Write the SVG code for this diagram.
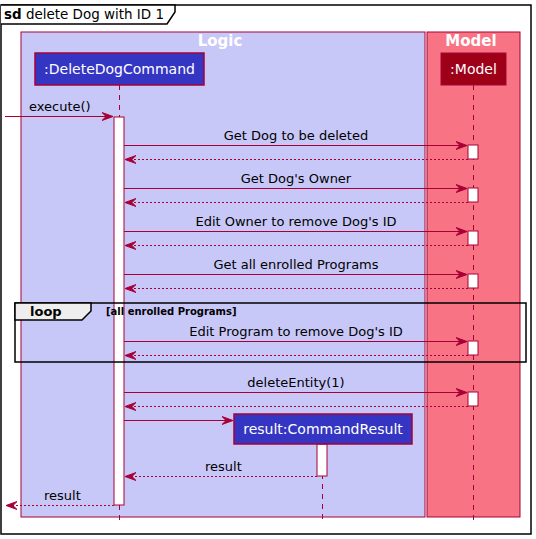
<svg xmlns="http://www.w3.org/2000/svg" width="536" height="539" viewBox="0 0 536 539">
<style>
text{font-family:"DejaVu Sans","Liberation Sans",sans-serif}
.msg{font-size:13px;fill:#000}
.line{stroke:#A80036;stroke-width:1;fill:none}
.ret{stroke:#A80036;stroke-width:1;fill:none;stroke-dasharray:2,2}
.life{stroke:#A80036;stroke-width:1;fill:none;stroke-dasharray:5,5}
.act{fill:#FFFFFF;stroke:#A80036;stroke-width:1}
.ptxt{font-size:14px;fill:#FFFFFF;text-anchor:middle}
.btitle{font-size:15px;font-weight:bold;fill:#FFFFFF;text-anchor:middle}
</style>
<defs>
<marker id="arr" viewBox="0 0 12 10" refX="11" refY="5" markerWidth="12" markerHeight="10" markerUnits="userSpaceOnUse" orient="auto">
<polygon points="0,1 11,5 0,9 4,5" fill="#A80036" stroke="#A80036" stroke-width="1"/>
</marker>
</defs>
<rect x="0" y="0" width="536" height="539" fill="#FFFFFF"/>
<g id="frame">
<rect x="1" y="5" width="530" height="529" fill="none" stroke="#000" stroke-width="1.5"/>
<path d="M1,5 L175,5 L175,12 L167,24 L1,24" fill="#FFFFFF" stroke="#000" stroke-width="1.5"/>
<text x="4" y="19" font-size="14" fill="#000" textLength="160" lengthAdjust="spacingAndGlyphs"><tspan font-weight="bold">sd</tspan> delete Dog with ID 1</text>
</g>
<g id="logic">
<rect x="21" y="32" width="404" height="485" fill="#C8C8F8" stroke="#A80036" stroke-width="1"/>
<text class="btitle" x="220" y="46">Logic</text>
</g>
<g id="model">
<rect x="427" y="32" width="93" height="485" fill="#F87484" stroke="#A80036" stroke-width="1"/>
<text class="btitle" x="471" y="46">Model</text>
</g>
<g id="lifelines">
<line class="life" x1="119.5" y1="85" x2="119.5" y2="521"/>
<line class="life" x1="473.5" y1="85" x2="473.5" y2="521"/>
<line class="life" x1="322.5" y1="444" x2="322.5" y2="521"/>
</g>
<g id="deleteDogCommand">
<rect x="35" y="53" width="169" height="32" fill="#3535C4" stroke="#A80036" stroke-width="1.5"/>
<text class="ptxt" x="119.5" y="74">:DeleteDogCommand</text>
</g>
<g id="modelParticipant">
<rect x="441" y="53" width="65" height="32" fill="#9E0018" stroke="#A80036" stroke-width="1"/>
<text class="ptxt" x="473.5" y="74">:Model</text>
</g>
<g id="activations">
<rect class="act" x="114" y="117" width="10" height="388"/>
<rect class="act" x="468" y="145" width="10" height="14"/>
<rect class="act" x="468" y="188" width="10" height="14"/>
<rect class="act" x="468" y="231" width="10" height="14"/>
<rect class="act" x="468" y="274" width="10" height="14"/>
<rect class="act" x="468" y="341" width="10" height="14"/>
<rect class="act" x="468" y="392" width="10" height="14"/>
<rect class="act" x="317" y="444" width="10" height="32"/>
</g>
<g id="loop">
<rect x="15" y="303" width="511" height="59" fill="none" stroke="#000" stroke-width="1.5"/>
<path d="M15,303 L91,303 L91,311 L82,320 L15,320 Z" fill="#EEEEEE" stroke="#000" stroke-width="1.5"/>
<text x="30" y="316" font-size="13" font-weight="bold" fill="#000">loop</text>
<text x="106" y="315" font-size="10" font-weight="bold" fill="#000">[all enrolled Programs]</text>
</g>
<g id="commandResult">
<rect x="234" y="414" width="178" height="30" fill="#3535C4" stroke="#A80036" stroke-width="1.5"/>
<text class="ptxt" x="323" y="434">result:CommandResult</text>
</g>
<g id="connectors">
<line class="line" x1="5" y1="116.5" x2="113" y2="116.5" marker-end="url(#arr)"/>
<text class="msg" x="29" y="111">execute()</text>
<line class="line" x1="124" y1="145.5" x2="467" y2="145.5" marker-end="url(#arr)"/>
<text class="msg" x="296" y="140" text-anchor="middle">Get Dog to be deleted</text>
<line class="ret" x1="468" y1="159.5" x2="125" y2="159.5" marker-end="url(#arr)"/>
<line class="line" x1="124" y1="188.5" x2="467" y2="188.5" marker-end="url(#arr)"/>
<text class="msg" x="296" y="183" text-anchor="middle">Get Dog's Owner</text>
<line class="ret" x1="468" y1="202.5" x2="125" y2="202.5" marker-end="url(#arr)"/>
<line class="line" x1="124" y1="231.5" x2="467" y2="231.5" marker-end="url(#arr)"/>
<text class="msg" x="296" y="226" text-anchor="middle">Edit Owner to remove Dog's ID</text>
<line class="ret" x1="468" y1="245.5" x2="125" y2="245.5" marker-end="url(#arr)"/>
<line class="line" x1="124" y1="274.5" x2="467" y2="274.5" marker-end="url(#arr)"/>
<text class="msg" x="296" y="269" text-anchor="middle">Get all enrolled Programs</text>
<line class="ret" x1="468" y1="288.5" x2="125" y2="288.5" marker-end="url(#arr)"/>
<line class="line" x1="124" y1="341.5" x2="467" y2="341.5" marker-end="url(#arr)"/>
<text class="msg" x="296" y="336" text-anchor="middle">Edit Program to remove Dog's ID</text>
<line class="ret" x1="468" y1="355.5" x2="125" y2="355.5" marker-end="url(#arr)"/>
<line class="line" x1="124" y1="392.5" x2="467" y2="392.5" marker-end="url(#arr)"/>
<text class="msg" x="296" y="387" text-anchor="middle">deleteEntity(1)</text>
<line class="ret" x1="468" y1="406.5" x2="125" y2="406.5" marker-end="url(#arr)"/>
<line class="line" x1="124" y1="420.5" x2="233" y2="420.5" marker-end="url(#arr)"/>
<line class="ret" x1="317" y1="476.5" x2="125" y2="476.5" marker-end="url(#arr)"/>
<text class="msg" x="205" y="471">result</text>
<line class="ret" x1="114" y1="505.5" x2="6" y2="505.5" marker-end="url(#arr)"/>
<text class="msg" x="44" y="500">result</text>
</g>
</svg>
